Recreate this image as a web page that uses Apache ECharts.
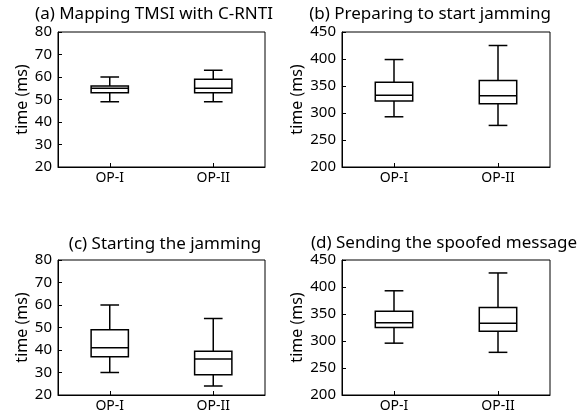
<!DOCTYPE html>
<html>
<head>
<meta charset="utf-8">
<script src="https://cdn.jsdelivr.net/npm/echarts@6/dist/echarts.min.js"></script>
<style>
html,body{margin:0;padding:0;background:#fff;}
#chart{width:585px;height:415px;}
</style>
</head>
<body>
<div id="chart"></div>
<script>
// Categories
const categories = ['OP-I', 'OP-II'];
// Box statistics per category: [min, Q1, median, Q3, max]
const mappingTmsi = [[49, 53, 55, 56, 60], [49, 53, 55, 59, 63]];
const preparingJam = [[293, 322, 333, 357, 399], [277, 317, 332, 360, 425]];
const startingJam = [[30, 37, 41, 49, 60], [24, 29, 36, 39.5, 54]];
const sendingSpoofed = [[296, 325, 334, 355, 393], [279, 318, 333, 362, 426]];
// Panel titles
const titles = ['(a) Mapping TMSI with C-RNTI', '(b) Preparing to start jamming',
                '(c) Starting the jamming', '(d) Sending the spoofed message'];
const panelData = [mappingTmsi, preparingJam, startingJam, sendingSpoofed];
const yRanges = [[20, 80, 10], [200, 450, 50], [20, 80, 10], [200, 450, 50]];

const FONT = 'Noto Sans';
const grids = [
  {left: 58, top: 32, width: 207, height: 135},
  {left: 342, top: 32, width: 208, height: 135},
  {left: 58, top: 260, width: 207, height: 135},
  {left: 342, top: 260, width: 208, height: 135}
];
const titlePos = [[154, 6], [430, 6], [165, 236], [444, 235]];
const nameGaps = [28, 37, 28, 37];

function renderBox(params, api) {
  const x = api.value(0);
  const pMin = api.coord([x, api.value(1)]);
  const pQ1 = api.coord([x, api.value(2)]);
  const pMed = api.coord([x, api.value(3)]);
  const pQ3 = api.coord([x, api.value(4)]);
  const pMax = api.coord([x, api.value(5)]);
  const band = api.size([1, 0])[0];
  const bw = band * 0.36;
  const cw = bw / 2;
  const cx = pMed[0];
  const st = {stroke: '#000', fill: null, lineWidth: 1.5};
  return {
    type: 'group',
    children: [
      {type: 'rect', shape: {x: cx - bw / 2, y: pQ3[1], width: bw, height: pQ1[1] - pQ3[1]}, style: st},
      {type: 'line', shape: {x1: cx - bw / 2, y1: pMed[1], x2: cx + bw / 2, y2: pMed[1]}, style: st},
      {type: 'line', shape: {x1: cx, y1: pQ3[1], x2: cx, y2: pMax[1]}, style: st},
      {type: 'line', shape: {x1: cx, y1: pQ1[1], x2: cx, y2: pMin[1]}, style: st},
      {type: 'line', shape: {x1: cx - cw / 2, y1: pMax[1], x2: cx + cw / 2, y2: pMax[1]}, style: st},
      {type: 'line', shape: {x1: cx - cw / 2, y1: pMin[1], x2: cx + cw / 2, y2: pMin[1]}, style: st}
    ]
  };
}

const option = {
  backgroundColor: '#fff',
  animation: false,
  title: titles.map((t, i) => ({
    text: t, left: titlePos[i][0], top: titlePos[i][1], textAlign: 'center', padding: 0,
    textStyle: {fontFamily: FONT, fontSize: 17, fontWeight: 'normal', color: '#000'}
  })),
  grid: grids.map(g => Object.assign({show: true, borderColor: '#000', borderWidth: 1, backgroundColor: 'transparent'}, g)),
  xAxis: grids.map((g, i) => ({
    type: 'category', gridIndex: i, data: categories, boundaryGap: true,
    axisLine: {show: true, lineStyle: {color: '#000', width: 1}},
    axisTick: {show: true, inside: true, alignWithLabel: true, length: 4, lineStyle: {color: '#000'}},
    axisLabel: {fontFamily: FONT, fontSize: 14, color: '#000', margin: 4},
    splitLine: {show: false}
  })),
  yAxis: grids.map((g, i) => ({
    type: 'value', gridIndex: i, min: yRanges[i][0], max: yRanges[i][1], interval: yRanges[i][2],
    name: 'time (ms)', nameLocation: 'middle', nameGap: nameGaps[i], nameRotate: 90,
    nameTextStyle: {fontFamily: FONT, fontSize: 16, color: '#000'},
    axisLine: {show: true, lineStyle: {color: '#000', width: 1}},
    axisTick: {show: true, inside: true, length: 4, lineStyle: {color: '#000'}},
    axisLabel: {fontFamily: FONT, fontSize: 15, color: '#000', margin: 6},
    splitLine: {show: false}
  })),
  series: panelData.map((d, i) => ({
    type: 'custom', xAxisIndex: i, yAxisIndex: i,
    renderItem: renderBox,
    encode: {x: 0, y: [1, 2, 3, 4, 5]},
    data: d.map((s, k) => [k].concat(s))
  }))
};

const chart = echarts.init(document.getElementById('chart'));
chart.setOption(option);
</script>
</body>
</html>
